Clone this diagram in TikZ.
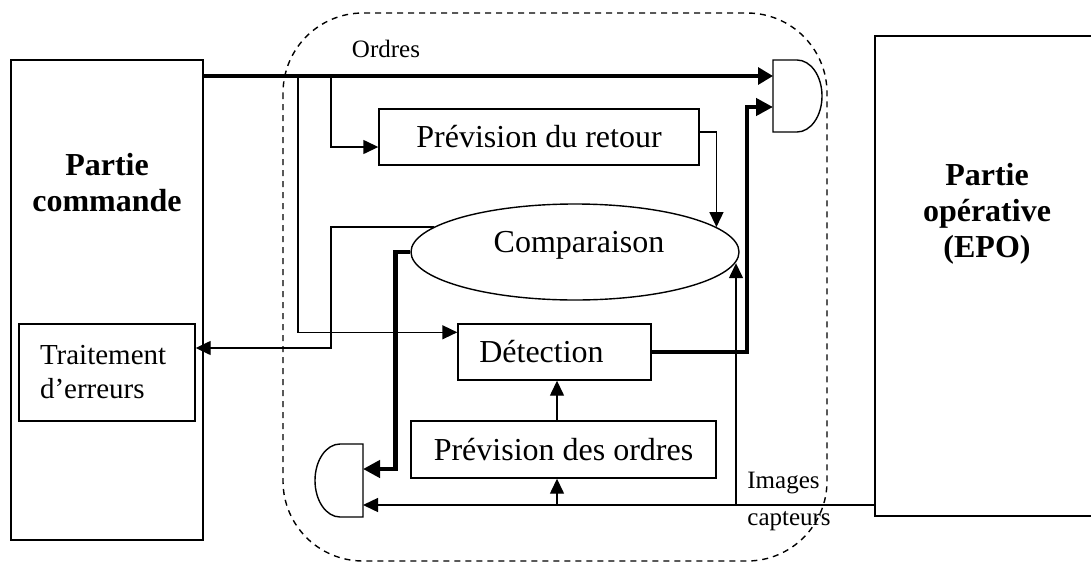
\documentclass[tikz,border=0pt]{standalone}
\usepackage{fontspec}
\setmainfont{Liberation Serif}
\usepackage{tikz}
\usetikzlibrary{calc, positioning}
\usetikzlibrary{shapes.geometric, arrows.meta}

\begin{document}
\begin{tikzpicture}[x=0.5pt, y=-0.5pt,
    every node/.style={inner sep=0pt},
    bloc/.style={draw, line width=0.7pt, font=\fontsize{16}{19}\selectfont},
    fil/.style={line width=0.7pt, -{Triangle[length=7.5pt, width=7pt]}},
    moyen/.style={line width=1.6pt, -{Triangle[length=7.5pt, width=8.5pt]}},
    gros/.style={line width=2.4pt, -{Triangle[length=8.5pt, width=8.5pt]}},
    petit/.style={font=\fontsize{12.5}{19}\selectfont},
    titre/.style={font=\fontsize{16}{18}\selectfont\bfseries, align=center}]

            \useasboundingbox (0,0) rectangle (1091,562);

            \draw[line width=0.7pt, dash pattern=on 3pt off 2.5pt, rounded corners=40pt] (283,13) rectangle (827,561);

            \node[bloc, minimum width=96pt, minimum height=240pt] (pc) at (107,300) {};
            \node[titre] (pctxt) at (107,183) {Partie\\commande};
            \node[bloc, minimum width=110pt, minimum height=240pt] (po) at (985,276) {};
            \node[titre] (potxt) at (987,214) {Partie\\opérative\\(EPO)};

            \node[bloc, minimum width=88pt, minimum height=48.5pt, text width=67pt, align=left,
                font=\fontsize{14.5}{17}\selectfont] (tr) at (107,372.5) {Traitement\\d’erreurs};

            \node[bloc, minimum width=160pt, minimum height=28pt] (ret) at (539,137) {Prévision du retour};
            \node[draw, ellipse, line width=0.7pt, minimum width=164pt, minimum height=48pt] (cmp) at (575,252) {};
            \node[anchor=base, font=\fontsize{16}{19}\selectfont] (cmptxt) at (579,252) {Comparaison};
            \node[bloc, minimum width=96.5pt, minimum height=28pt] (det) at (554.5,352) {Détection\kern13pt};
            \node[bloc, minimum width=152.5pt, minimum height=28.5pt] (ord) at (563.5,449.5) {Prévision des ordres};

            \node[petit, anchor=base] (ordres) at (386,57) {Ordres};
            \node[petit, anchor=base west] (img) at (747,488) {Images};
            \node[petit, anchor=base west] (capt) at (747,525) {capteurs};

            \draw[line width=0.7pt] (773,60) -- (797,60)
                arc[start angle=90, end angle=-90, x radius=12.5pt, y radius=18pt] -- (773,132) -- cycle;
            \draw[line width=0.7pt] (363,444) -- (340,444)
                arc[start angle=90, end angle=270, x radius=12.5pt, y radius=18.25pt] -- (363,517) -- cycle;

            \coordinate (g1a) at (773,76);
            \coordinate (g1b) at (773,107);
            \coordinate (g2a) at (363,469);
            \coordinate (g2b) at (363,505);
            \coordinate (o1) at (298,75);
            \coordinate (o2) at (331,75);
            \coordinate (e1) at (331,348);
            \coordinate (i1) at (736,505);
            \coordinate (a1) at (557,505);

            \draw[moyen] (pc.north east |- g1a) -- (g1a);
            \draw[fil] (o1) |- ($(det.north west)+(0,9)$);
            \draw[fil] (o2) |- ($(ret.west)+(0,10)$);
            \draw[fil] ($(ret.east)+(0,-5)$) -| (cmp.10);
            \draw[fil] (cmp.170) -| (e1) -- (tr.east |- e1);
            \draw[gros] (cmp.west) -- ++(-15,0) |- (g2a);
            \draw[gros] (det.east) -| ($(g1b)+(-26,0)$) -- (g1b);

            \draw[fil] (po.south west |- g2b) -- (g2b);
            \draw[fil] (i1) -- (i1 |- cmp.-4);
            \draw[fil] (a1) -- (a1 |- ord.south);
            \draw[fil] (a1 |- ord.north) -- (a1 |- det.south);
        \end{tikzpicture}
\end{document}
